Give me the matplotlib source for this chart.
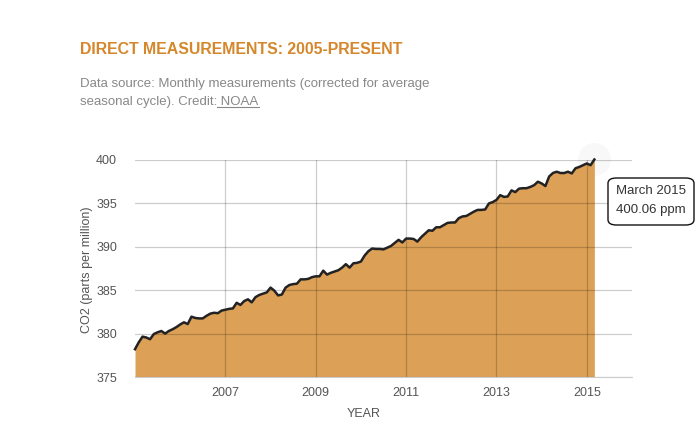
import matplotlib
matplotlib.use("Agg")
import matplotlib.pyplot as plt
from matplotlib.patches import FancyBboxPatch
from matplotlib.lines import Line2D
import numpy as np

plt.rcParams['font.family'] = ['Liberation Sans', 'DejaVu Sans']

# monthly CO2 (ppm), Jan 2005 .. Mar 2015
co2 = [
    378.2, 379.0, 379.65, 379.55, 379.35, 379.95, 380.15, 380.3, 380.0, 380.3, 380.5, 380.75,
    381.05, 381.3, 381.1, 381.95, 381.8, 381.75, 381.75, 382.05, 382.3, 382.4, 382.35, 382.65,
    382.75, 382.85, 382.9, 383.55, 383.3, 383.75, 383.95, 383.6, 384.2, 384.45, 384.6, 384.75,
    385.3, 384.95, 384.4, 384.5, 385.3, 385.6, 385.7, 385.75, 386.25, 386.25, 386.3, 386.5,
    386.6, 386.6, 387.25, 386.8, 387.0, 387.15, 387.3, 387.6, 388.0, 387.6, 388.1, 388.15,
    388.3, 389.0, 389.5, 389.8, 389.75, 389.75, 389.7, 389.9, 390.1, 390.45, 390.8, 390.5,
    390.95, 390.95, 390.9, 390.6, 391.1, 391.5, 391.9, 391.85, 392.25, 392.25, 392.5, 392.75,
    392.8, 392.8, 393.3, 393.5, 393.55, 393.8, 394.05, 394.25, 394.25, 394.3, 395.0, 395.15,
    395.4, 395.95, 395.75, 395.8, 396.5, 396.3, 396.7, 396.75, 396.75, 396.9, 397.1, 397.5,
    397.3, 397.0, 398.1, 398.5, 398.65, 398.5, 398.5, 398.65, 398.45, 399.05, 399.2, 399.4,
    399.6, 399.4, 400.06,
]
start_year = 2005
years = start_year + np.arange(len(co2)) / 12.0
x_ticks = [2007, 2009, 2011, 2013, 2015]
y_ticks = [375, 380, 385, 390, 395, 400]
tip_label = "March 2015"
tip_value = "400.06 ppm"

W, H = 699, 441
fig = plt.figure(figsize=(W / 100, H / 100), dpi=100)
ax = fig.add_axes([135 / W, 1 - 377 / H, (632 - 135) / W, (377 - 160) / H])

fill_c = '#dda057'
ax.fill_between(years, 375, co2, color=fill_c, lw=0, zorder=1)
# faint hover halo on the last point
ax.scatter([years[-1]], [co2[-1]], s=560, color='#f8f8f8', lw=0, zorder=0.5, clip_on=False)
ax.plot(years, co2, color='#222222', lw=1.8, zorder=3, clip_on=False, solid_joinstyle='round')

ax.set_xlim(2005, 2016)
ax.set_ylim(375, 400)
ax.set_xticks(x_ticks)
ax.set_yticks(y_ticks)
ax.grid(True, color='#000000', alpha=0.2, lw=0.9, zorder=2)
ax.set_axisbelow(False)
for s in ['top', 'right', 'left']:
    ax.spines[s].set_visible(False)
ax.spines['bottom'].set_color('#cccccc')
ax.spines['bottom'].set_zorder(4)
ax.tick_params(length=0, labelsize=9, labelcolor='#555555')
ax.tick_params(axis='y', pad=13)
ax.tick_params(axis='x', pad=7)

fig.text(87 / W, 1 - 270 / H, 'CO2 (parts per million)', rotation=90, ha='center', va='center',
         fontsize=9, color='#555555')
fig.text(364 / W, 1 - 414 / H, 'YEAR', ha='center', va='center', fontsize=9, color='#555555')

fig.text(80 / W, 1 - 50 / H, 'DIRECT MEASUREMENTS: 2005-PRESENT', ha='left', va='center',
         fontsize=11.4, fontweight='bold', color='#d4872b')
sub_c = '#888888'
fig.text(80 / W, 1 - 84 / H, 'Data source: Monthly measurements (corrected for average',
         ha='left', va='center', fontsize=9.5, color=sub_c)
t2 = fig.text(80 / W, 1 - 102 / H, 'seasonal cycle). Credit:', ha='left', va='center',
              fontsize=9.5, color=sub_c)
fig.canvas.draw()
r = fig.canvas.get_renderer()
bb = t2.get_window_extent(r)
t3 = fig.text(bb.x1 / W, 1 - 102 / H, ' NOAA', ha='left', va='center', fontsize=9.5, color=sub_c)
bb3 = t3.get_window_extent(r)
fig.add_artist(Line2D([bb3.x0 / W, bb3.x1 / W], [(bb3.y0 + 1) / H] * 2, color=sub_c, lw=0.8))

box = FancyBboxPatch((608 / W, 1 - 225 / H), 86 / W, 47 / H,
                     boxstyle='round,pad=0,rounding_size=0.012', transform=fig.transFigure,
                     facecolor='white', edgecolor='#111111', lw=1.0)
fig.add_artist(box)
fig.text(616 / W, 1 - 191 / H, tip_label, ha='left', va='center', fontsize=9.5, color='#333333')
fig.text(616 / W, 1 - 210 / H, tip_value, ha='left', va='center', fontsize=9.5, color='#333333')

fig.savefig('out.png', dpi=100)
